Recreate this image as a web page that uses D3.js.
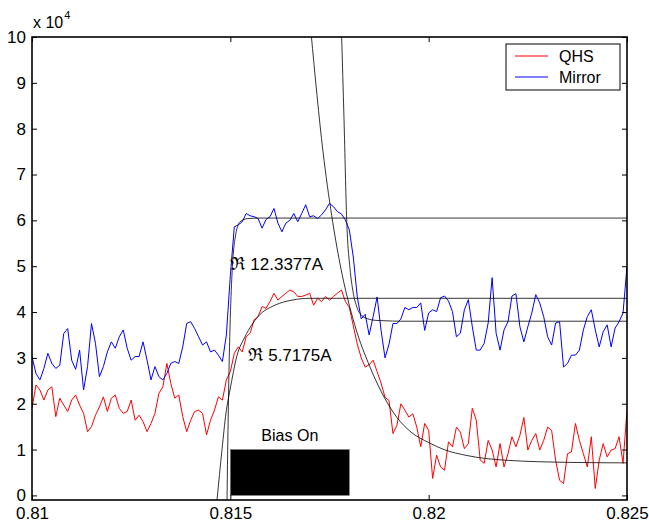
<!DOCTYPE html>
<html>
<head>
<meta charset="utf-8">
<script src="https://cdn.jsdelivr.net/npm/d3@7"></script>
<style>
	body { margin: 0; background: #fff; }
	text { font-family: "Liberation Sans", Arial, Helvetica, sans-serif; }
</style>
</head>
<body>
<div id="container"></div>
<script>
// 1. Data (signal values are in units of 10^4)
const time = d3.range(151).map(i => 0.81 + i * 0.0001)

const qhs = [
	1.9, 2.41, 2.30, 2.08, 2.30, 2.37, 1.72, 2.12, 1.97, 1.83,
	2.08, 2.19, 1.97, 1.79, 1.39, 1.50, 1.75, 1.93, 2.15, 1.83,
	2.12, 2.19, 1.90, 1.79, 1.83, 2.08, 1.64, 1.75, 1.61, 1.39,
	1.57, 1.79, 2.23, 2.37, 2.88, 2.44, 2.12, 2.19, 1.72, 1.39,
	1.64, 1.83, 1.86, 1.79, 1.32, 1.64, 1.86, 2.15, 2.08, 2.52,
	2.7, 3.10, 3.24, 3.13, 3.46, 3.54, 3.83, 3.90, 4.12, 4.08,
	4.23, 4.41, 4.26, 4.34, 4.41, 4.48, 4.44, 4.34, 4.34, 4.37,
	4.41, 4.15, 4.30, 4.23, 4.34, 4.26, 4.34, 4.41, 4.48, 4.23,
	4.1, 3.7, 3.3, 3.0, 2.8, 2.85, 2.95, 2.7, 2.45, 2.14,
	2.07, 1.35, 1.53, 2.00, 1.86, 1.71, 1.78, 1.49, 1.06, 1.57,
	1.42, 0.37, 0.88, 0.62, 0.55, 1.17, 1.06, 1.49, 1.38, 1.02,
	1.13, 1.9, 1.64, 0.77, 0.70, 1.20, 0.99, 0.62, 1.13, 0.62,
	0.91, 1.28, 1.06, 1.31, 1.7, 0.99, 1.20, 1.35, 0.99, 1.20,
	1.49, 1.42, 0.77, 0.33, 0.26, 0.91, 0.95, 1.57, 1.20, 0.91,
	0.62, 1.28, 0.15, 0.77, 1.13, 0.84, 0.99, 1.02, 1.28, 0.70,
	1.86,
]

const mirror = [
	3.03, 2.66, 2.52, 2.77, 3.10, 2.88, 2.77, 2.84, 3.53, 3.64,
	2.95, 2.75, 3.17, 2.30, 2.81, 3.75, 3.32, 2.59, 2.81, 3.13,
	3.35, 3.21, 3.46, 3.61, 3.21, 2.95, 3.03, 3.03, 3.35, 2.95,
	2.52, 2.81, 2.59, 2.52, 2.66, 2.88, 2.92, 2.88, 3.24, 3.75,
	3.79, 3.64, 3.46, 3.28, 3.35, 3.13, 3.17, 3.06, 2.92, 3.5,
	4.8, 5.86, 5.90, 5.97, 6.15, 6.10, 6.08, 6.04, 5.83, 6.02,
	6.08, 6.26, 5.94, 5.75, 5.94, 6.00, 6.15, 5.97, 6.15, 6.34,
	6.08, 6.10, 6.04, 6.12, 6.23, 6.37, 6.30, 6.19, 6.14, 6.01,
	5.79, 5.2, 4.33, 3.85, 3.95, 3.5, 3.9, 4.33, 3.6, 3.0,
	3.3, 3.75, 3.75, 3.85, 4.1, 4.05, 4.1, 4.1, 4.2, 3.6,
	3.98, 4.05, 4.01, 4.31, 4.35, 4.24, 4.01, 3.46, 3.54, 4.05,
	4.27, 3.68, 3.17, 3.17, 3.32, 3.76, 4.75, 3.54, 3.17, 3.61,
	3.79, 4.35, 4.40, 3.68, 3.35, 3.68, 3.98, 4.38, 4.20, 3.90,
	3.46, 3.28, 3.76, 3.79, 2.80, 2.88, 3.06, 3.06, 3.17, 3.61,
	3.90, 4.05, 3.61, 3.24, 3.57, 3.72, 3.24, 3.65, 3.79, 3.98,
	5.0,
]

const seriesNames = ["QHS", "Mirror"]
const seriesColors = ["#ff0000", "#0000ff"]

const xTicks = [0.81, 0.815, 0.82, 0.825]
const yTicks = [0, 1, 2, 3, 4, 5, 6, 7, 8, 9, 10]

// fitted exponentials
const qhsRiseT = [0.814664, 0.81479, 0.814891, 0.814992, 0.815168, 0.81537, 0.815697, 0.816126, 0.816555, 0.817009, 0.825]
const qhsRiseV = [-0.1, 1.0, 1.8, 2.3, 3.05, 3.46, 3.9, 4.15, 4.26, 4.3, 4.3]
const mirrorRiseT = [0.814916, 0.814941, 0.814966, 0.814992, 0.815042, 0.815118, 0.815244, 0.815445, 0.815748, 0.825]
const mirrorRiseV = [-0.1, 1.42, 2.73, 3.67, 4.83, 5.6, 5.97, 6.04, 6.05, 6.05]
const qhsDecayT = [0.817034, 0.817336, 0.817556, 0.817765, 0.818143, 0.818521, 0.818899, 0.819202, 0.819529, 0.820008, 0.820387, 0.820966, 0.821899, 0.823588, 0.825]
const qhsDecayV = [10.1, 7.5, 6.1, 5.05, 3.7, 2.8, 2.11, 1.7, 1.4, 1.15, 1.0, 0.87, 0.77, 0.72, 0.71]
const mirrorDecayT = [0.817803, 0.817866, 0.817934, 0.818017, 0.818092, 0.818193, 0.818319, 0.818471, 0.818647, 0.818899, 0.819277, 0.825]
const mirrorDecayV = [10.1, 8.2, 6.0, 4.95, 4.45, 4.1, 3.92, 3.85, 3.82, 3.81, 3.8, 3.8]

const biasOn = [0.815, 0.818]
const biasLevel = [0, 1]

const fitLabels = [
	{ t: 0.81500, v: 4.92, text: "12.3377A" },
	{ t: 0.81545, v: 2.93, text: "5.7175A" },
]

// 2. Dimensions
const width = 649
const height = 522
const margin = { top: 37, right: 22, bottom: 22, left: 32 }

// 3. Canvas
const svg = d3.select("#container")
	.append("svg")
	.attr("width", width)
	.attr("height", height)

const x = d3.scaleLinear()
	.domain([0.81, 0.825])
	.range([margin.left, width - margin.right])

const y = d3.scaleLinear()
	.domain([-0.1, 10])
	.range([height - margin.bottom, margin.top])

svg.append("clipPath")
	.attr("id", "plot-clip")
	.append("rect")
	.attr("x", margin.left)
	.attr("y", margin.top)
	.attr("width", x.range()[1] - margin.left)
	.attr("height", y.range()[0] - margin.top)

const plot = svg.append("g").attr("clip-path", "url(#plot-clip)")

// 4. Traces
const trace = d3.line()
	.x((d, i) => x(time[i]))
	.y(d => y(d))

;[qhs, mirror].forEach((values, i) => {
	plot.append("path")
		.datum(values)
		.attr("fill", "none")
		.attr("stroke", seriesColors[i])
		.attr("stroke-width", 1)
		.attr("stroke-linejoin", "round")
		.attr("d", trace)
})

// fits
const fitLine = d3.line()
	.x(d => x(d[0]))
	.y(d => y(d[1]))
	.curve(d3.curveMonotoneX)

const fits = [
	[qhsRiseT, qhsRiseV],
	[mirrorRiseT, mirrorRiseV],
	[qhsDecayT, qhsDecayV],
	[mirrorDecayT, mirrorDecayV],
]

fits.forEach(([ts, vs]) => {
	plot.append("path")
		.datum(d3.zip(ts, vs))
		.attr("fill", "none")
		.attr("stroke", "#000")
		.attr("stroke-width", 0.8)
		.attr("d", fitLine)
})

// bias-on block
plot.append("rect")
	.attr("x", x(biasOn[0]))
	.attr("y", y(biasLevel[1]))
	.attr("width", x(biasOn[1]) - x(biasOn[0]))
	.attr("height", y(biasLevel[0]) - y(biasLevel[1]))
	.attr("fill", "#000")
	.attr("stroke", "#777")
	.attr("stroke-width", 0.6)

svg.append("text")
	.attr("x", x(d3.mean(biasOn)))
	.attr("y", y(1.19))
	.attr("text-anchor", "middle")
	.attr("font-size", 16)
	.text("Bias On")

// fit annotations
fitLabels.forEach(d => {
	const label = svg.append("text")
		.attr("x", x(d.t))
		.attr("y", y(d.v))
		.attr("font-size", 17)
	label.append("tspan")
		.style("font-family", "'DejaVu Serif', serif")
		.attr("font-size", 18)
		.text("\u211C")
	label.append("tspan")
		.attr("dx", 5)
		.text(d.text)
})

// 5. Axes
const bottom = height - margin.bottom
const right = width - margin.right

const axisStyle = g => {
	g.select(".domain").remove()
	g.selectAll(".tick line").attr("stroke", "#000").attr("stroke-width", 1)
	g.selectAll("text")
		.attr("fill", "#000")
		.attr("font-size", 17)
		.style("font-family", "'Liberation Sans', Arial, sans-serif")
}

svg.append("g")
	.attr("transform", `translate(0,${bottom})`)
	.call(d3.axisBottom(x).tickValues(xTicks).tickSize(-5).tickPadding(7).tickFormat(d => String(d)))
	.call(axisStyle)

svg.append("g")
	.attr("transform", `translate(0,${margin.top})`)
	.call(d3.axisTop(x).tickValues(xTicks).tickSize(-5).tickFormat(""))
	.call(axisStyle)

svg.append("g")
	.attr("transform", `translate(${margin.left},0)`)
	.call(d3.axisLeft(y).tickValues(yTicks).tickSize(-5).tickPadding(6).tickFormat(d3.format("d")))
	.call(axisStyle)

svg.append("g")
	.attr("transform", `translate(${right},0)`)
	.call(d3.axisRight(y).tickValues(yTicks).tickSize(-5).tickFormat(""))
	.call(axisStyle)

svg.append("rect")
	.attr("x", margin.left)
	.attr("y", margin.top)
	.attr("width", right - margin.left)
	.attr("height", bottom - margin.top)
	.attr("fill", "none")
	.attr("stroke", "#000")
	.attr("stroke-width", 1.6)

// exponent label
const expo = svg.append("text")
	.attr("x", margin.left + 1)
	.attr("y", 28)
	.attr("font-size", 16)
	.text("x 10")
expo.append("tspan")
	.attr("dy", -9)
	.attr("dx", 1)
	.attr("font-size", 11)
	.text("4")

// 6. Legend
const legend = svg.append("g")
	.attr("transform", "translate(506,44)")

legend.append("rect")
	.attr("width", 114)
	.attr("height", 46)
	.attr("fill", "#fff")
	.attr("stroke", "#000")
	.attr("stroke-width", 1)

seriesNames.forEach((name, i) => {
	const row = legend.append("g")
		.attr("transform", `translate(0,${12 + i * 21})`)
	row.append("line")
		.attr("x1", 9)
		.attr("x2", 42)
		.attr("stroke", seriesColors[i])
		.attr("stroke-width", 1)
	row.append("text")
		.attr("x", 53)
		.attr("dy", "0.35em")
		.attr("font-size", 16)
		.text(name)
})
</script>
</body>
</html>
